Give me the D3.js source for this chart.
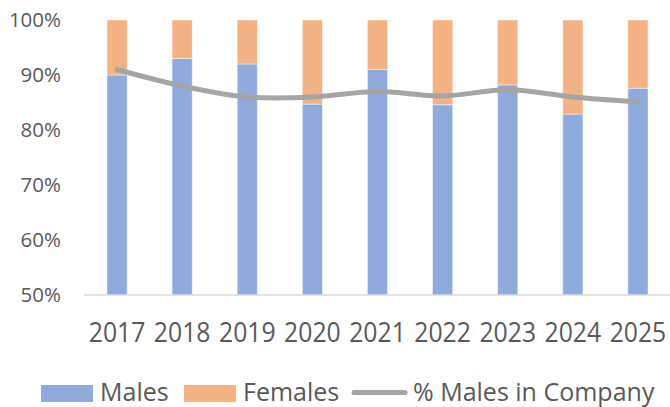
<!DOCTYPE html>
<html>
<head>
<meta charset="utf-8">
<script src="https://cdn.jsdelivr.net/npm/d3@7"></script>
<style>
  html, body { margin: 0; padding: 0; background: #fff; }
  svg { display: block; }
  text { font-family: "Open Sans", sans-serif; fill: #595959; }
</style>
</head>
<body>
<svg id="chart" width="670" height="407"></svg>
<script>
const years = ["2017", "2018", "2019", "2020", "2021", "2022", "2023", "2024", "2025"];
const males = [90, 93, 92, 84.7, 91, 84.6, 88.2, 82.9, 87.6];
const females = males.map(m => 100 - m);
const malesInCompany = [91, 88, 86, 86, 87, 86.2, 87.3, 86, 85.1];
const yTicks = [50, 60, 70, 80, 90, 100];
const legendLabels = ["Males", "Females", "% Males in Company"];

const colors = { males: "#8faadc", females: "#f4b183", line: "#a5a5a5" };

const svg = d3.select("#chart");

const x = d3.scaleBand().domain(years).range([84.5, 670.5]).paddingInner(0.69).paddingOuter(0.345);
const cx = d => x(d) + x.bandwidth() / 2;
const y = d3.scaleLinear().domain([50, 100]).range([295, 20]);

// bars
const stack = years.map((yr, i) => ({ year: yr, males: males[i], females: females[i] }));
const g = svg.append("g");
g.selectAll("rect.m").data(stack).join("rect")
  .attr("class", "m")
  .attr("x", d => x(d.year))
  .attr("width", x.bandwidth())
  .attr("y", d => y(d.males))
  .attr("height", d => y(50) - y(d.males))
  .attr("fill", colors.males)
  .attr("stroke", "#ffffff").attr("stroke-opacity", 0.45).attr("stroke-width", 1);
g.selectAll("rect.f").data(stack).join("rect")
  .attr("class", "f")
  .attr("x", d => x(d.year))
  .attr("width", x.bandwidth())
  .attr("y", d => y(d.males + d.females))
  .attr("height", d => y(d.males) - y(d.males + d.females))
  .attr("fill", colors.females)
  .attr("stroke", "#ffffff").attr("stroke-opacity", 0.45).attr("stroke-width", 1);

// x axis line
svg.append("line")
  .attr("x1", 84).attr("x2", 670)
  .attr("y1", y(50)).attr("y2", y(50))
  .attr("stroke", "#d9d9d9").attr("stroke-width", 1.5);

// line
const line = d3.line()
  .x((d, i) => cx(years[i]))
  .y(d => y(d))
  .curve(d3.curveCatmullRom.alpha(0.5));
svg.append("path")
  .datum(malesInCompany)
  .attr("d", line)
  .attr("fill", "none")
  .attr("stroke", colors.line)
  .attr("stroke-width", 5)
  .attr("stroke-linecap", "round")
  .attr("stroke-linejoin", "round");

// y labels
svg.append("g").selectAll("text").data(yTicks).join("text")
  .attr("x", 61)
  .attr("y", d => y(d))
  .attr("dy", "0.35em")
  .attr("text-anchor", "end")
  .style("font-size", "20.5px")
  .text(d => d + "%");

// x labels
svg.append("g").selectAll("text").data(years).join("text")
  .attr("transform", d => `translate(${cx(d)},342) scale(0.9,1)`)
  .attr("text-anchor", "middle")
  .style("font-size", "27.5px")
  .text(d => d);

// legend
const lg = svg.append("g");
lg.append("rect").attr("x", 41).attr("y", 385).attr("width", 52).attr("height", 17).attr("fill", colors.males);
lg.append("text").attr("x", 100).attr("y", 400.7).style("font-size", "25px").text(legendLabels[0]);
lg.append("rect").attr("x", 184).attr("y", 385).attr("width", 52).attr("height", 17).attr("fill", colors.females);
lg.append("text").attr("x", 243).attr("y", 400.7).style("font-size", "25px").text(legendLabels[1]);
lg.append("line").attr("x1", 354).attr("x2", 405).attr("y1", 392.5).attr("y2", 392.5)
  .attr("stroke", colors.line).attr("stroke-width", 5).attr("stroke-linecap", "round");
lg.append("text").attr("x", 413).attr("y", 400.7).style("font-size", "25px").text(legendLabels[2]);
</script>
</body>
</html>
